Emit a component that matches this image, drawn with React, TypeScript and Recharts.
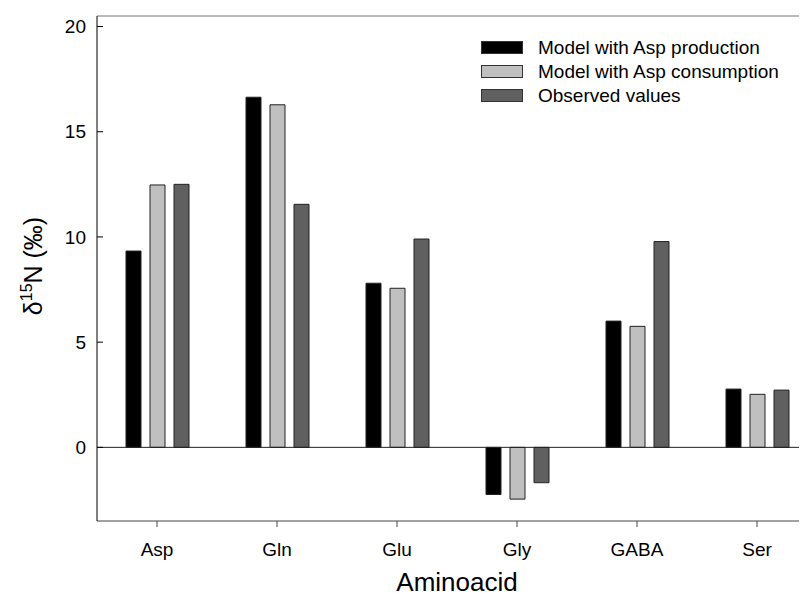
import { Bar, BarChart, Label, ReferenceLine, XAxis, YAxis } from "recharts";

const aminoacids = ["Asp", "Gln", "Glu", "Gly", "GABA", "Ser"];
const aspProduction = [9.33, 16.64, 7.8, -2.24, 6.0, 2.77];
const aspConsumption = [12.47, 16.28, 7.56, -2.46, 5.75, 2.52];
const observed = [12.5, 11.55, 9.9, -1.68, 9.78, 2.72];
const yTicks = [0, 5, 10, 15, 20];

const seriesInfo = [
  { key: "production", name: "Model with Asp production", fill: "#000000" },
  { key: "consumption", name: "Model with Asp consumption", fill: "#c0c0c0" },
  { key: "observed", name: "Observed values", fill: "#606060" },
];

const data = aminoacids.map((name, i) => ({
  name,
  production: aspProduction[i],
  consumption: aspConsumption[i],
  observed: observed[i],
}));

const font = "'Liberation Sans', Arial, sans-serif";

function LegendBox() {
  return (
    <div
      style={{
        position: "absolute",
        left: 473,
        top: 27,
        fontFamily: font,
        fontSize: 19,
        color: "#000",
        lineHeight: 1,
      }}
    >
      {seriesInfo.map((s) => (
        <div
          key={s.key}
          style={{ display: "flex", alignItems: "center", height: 24.3 }}
        >
          <div
            style={{
              width: 40,
              height: 11,
              background: s.fill,
              border: "1px solid #333",
              marginRight: 15,
            }}
          />
          <span style={{ whiteSpace: "nowrap" }}>{s.name}</span>
        </div>
      ))}
    </div>
  );
}

function YTitle() {
  const cx = 34;
  const cy = 258;
  return (
    <text
      x={cx}
      y={cy}
      transform={`rotate(-90 ${cx} ${cy})`}
      textAnchor="middle"
      fontFamily={font}
      fontSize={25}
      fill="#000"
    >
      <tspan>δ</tspan>
      <tspan fontSize={16} dy={-10}>
        15
      </tspan>
      <tspan dy={10}>N (‰)</tspan>
    </text>
  );
}

function XTitle(props: any) {
  const { viewBox } = props;
  return (
    <text
      x={viewBox.x + viewBox.width / 2}
      y={583}
      textAnchor="middle"
      fontFamily={font}
      fontSize={26}
      fill="#000"
    >
      Aminoacid
    </text>
  );
}

export default function App() {
  return (
    <div
      style={{
        position: "relative",
        width: 799,
        height: 590,
        overflow: "hidden",
      }}
    >
      <BarChart
        width={830}
        height={590}
        data={data}
        margin={{ top: 8, right: 21, bottom: 7, left: 0 }}
        barSize={15}
        barGap={9}
      >
        <XAxis
          dataKey="name"
          height={70}
          tickSize={6}
          tickMargin={16}
          stroke="#444"
          tick={{ fill: "#000", fontSize: 19, fontFamily: font }}
        >
          <Label content={<XTitle />} />
        </XAxis>
        <YAxis
          width={89}
          domain={[-3.5, 20.5]}
          ticks={yTicks}
          interval={0}
          allowDataOverflow
          tickSize={-6}
          tickMargin={17}
          stroke="#000"
          tick={{ fill: "#000", fontSize: 19, fontFamily: font }}
        >
          <Label content={<YTitle />} />
        </YAxis>
        <ReferenceLine y={20.5} stroke="#777" ifOverflow="visible" />
        <ReferenceLine y={0} stroke="#222" />
        {seriesInfo.map((s) => (
          <Bar
            key={s.key}
            dataKey={s.key}
            name={s.name}
            fill={s.fill}
            stroke="#222"
            strokeWidth={1}
            isAnimationActive={false}
          />
        ))}
      </BarChart>
      <LegendBox />
    </div>
  );
}
